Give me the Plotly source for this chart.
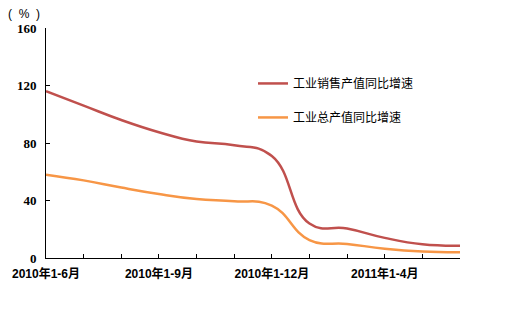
import plotly.graph_objects as go

# Year-to-date periods (cumulative months)
periods = [
    "2010年1-6月", "2010年1-7月", "2010年1-8月", "2010年1-9月",
    "2010年1-10月", "2010年1-11月", "2010年1-12月", "2011年1-2月",
    "2011年1-3月", "2011年1-4月", "2011年1-5月", "2011年1-6月",
]
# Year-on-year growth, %
sales_output_growth = [116, 106, 96, 87.5, 81, 78.5, 71, 24, 20.5, 14, 9.5, 8.5]
gross_output_growth = [58, 54, 49, 44.5, 41, 39.5, 36.5, 12.5, 9.8, 6.5, 4.5, 4]

series_names = ["工业销售产值同比增速", "工业总产值同比增速"]
y_ticks = [0, 40, 80, 120, 160]
shown_periods = {"2010年1-6月", "2010年1-9月", "2010年1-12月", "2011年1-4月"}

RED = "#C0504D"
ORANGE = "#F79646"

x_idx = list(range(len(periods)))
tick_text = [p if p in shown_periods else "" for p in periods]

fig = go.Figure()
fig.add_trace(go.Scatter(
    x=x_idx, y=sales_output_growth, name=series_names[0], mode="lines",
    line=dict(color=RED, width=2.5, shape="spline", smoothing=1.3),
    legendgroup="a",
))
fig.add_trace(go.Scatter(
    x=x_idx, y=gross_output_growth, name=series_names[1], mode="lines",
    line=dict(color=ORANGE, width=2.5, shape="spline", smoothing=1.3),
    legendgroup="b",
))

fig.update_layout(
    width=507, height=325,
    margin=dict(l=46, r=47, t=28, b=67),
    paper_bgcolor="white", plot_bgcolor="white",
    showlegend=True,
    legend=dict(
        x=0.50, y=0.822, xanchor="left", yanchor="top",
        bgcolor="rgba(0,0,0,0)", borderwidth=0,
        font=dict(family="Noto Sans CJK SC", size=12, color="#000000"),
        tracegroupgap=15, itemwidth=30,
    ),
    font=dict(family="Liberation Sans", size=12, color="#000000"),
)

fig.update_xaxes(
    range=[0, len(periods) - 1],
    tickmode="array", tickvals=x_idx, ticktext=tick_text,
    ticks="inside", ticklen=4, tickcolor="#000000", tickwidth=1,
    showline=True, linecolor="#000000", linewidth=1,
    showgrid=False, zeroline=False,
    tickfont=dict(family="Liberation Sans, Noto Sans CJK SC", size=12, weight="bold"),
    ticklabelstandoff=5,
)
fig.update_yaxes(
    range=[0, 160],
    tickmode="array", tickvals=y_ticks,
    ticks="inside", ticklen=4, tickcolor="#000000", tickwidth=1,
    showline=True, linecolor="#000000", linewidth=1,
    showgrid=False, zeroline=False,
    tickfont=dict(family="Liberation Serif", size=13, weight="bold"),
    ticklabelstandoff=6,
)

fig.add_annotation(
    text="(  %  )", xref="paper", yref="paper",
    x=-0.052, y=1.063, xanchor="center", yanchor="middle",
    showarrow=False, font=dict(family="Liberation Sans", size=12, color="#000000"),
)

fig.write_html("out.html")
